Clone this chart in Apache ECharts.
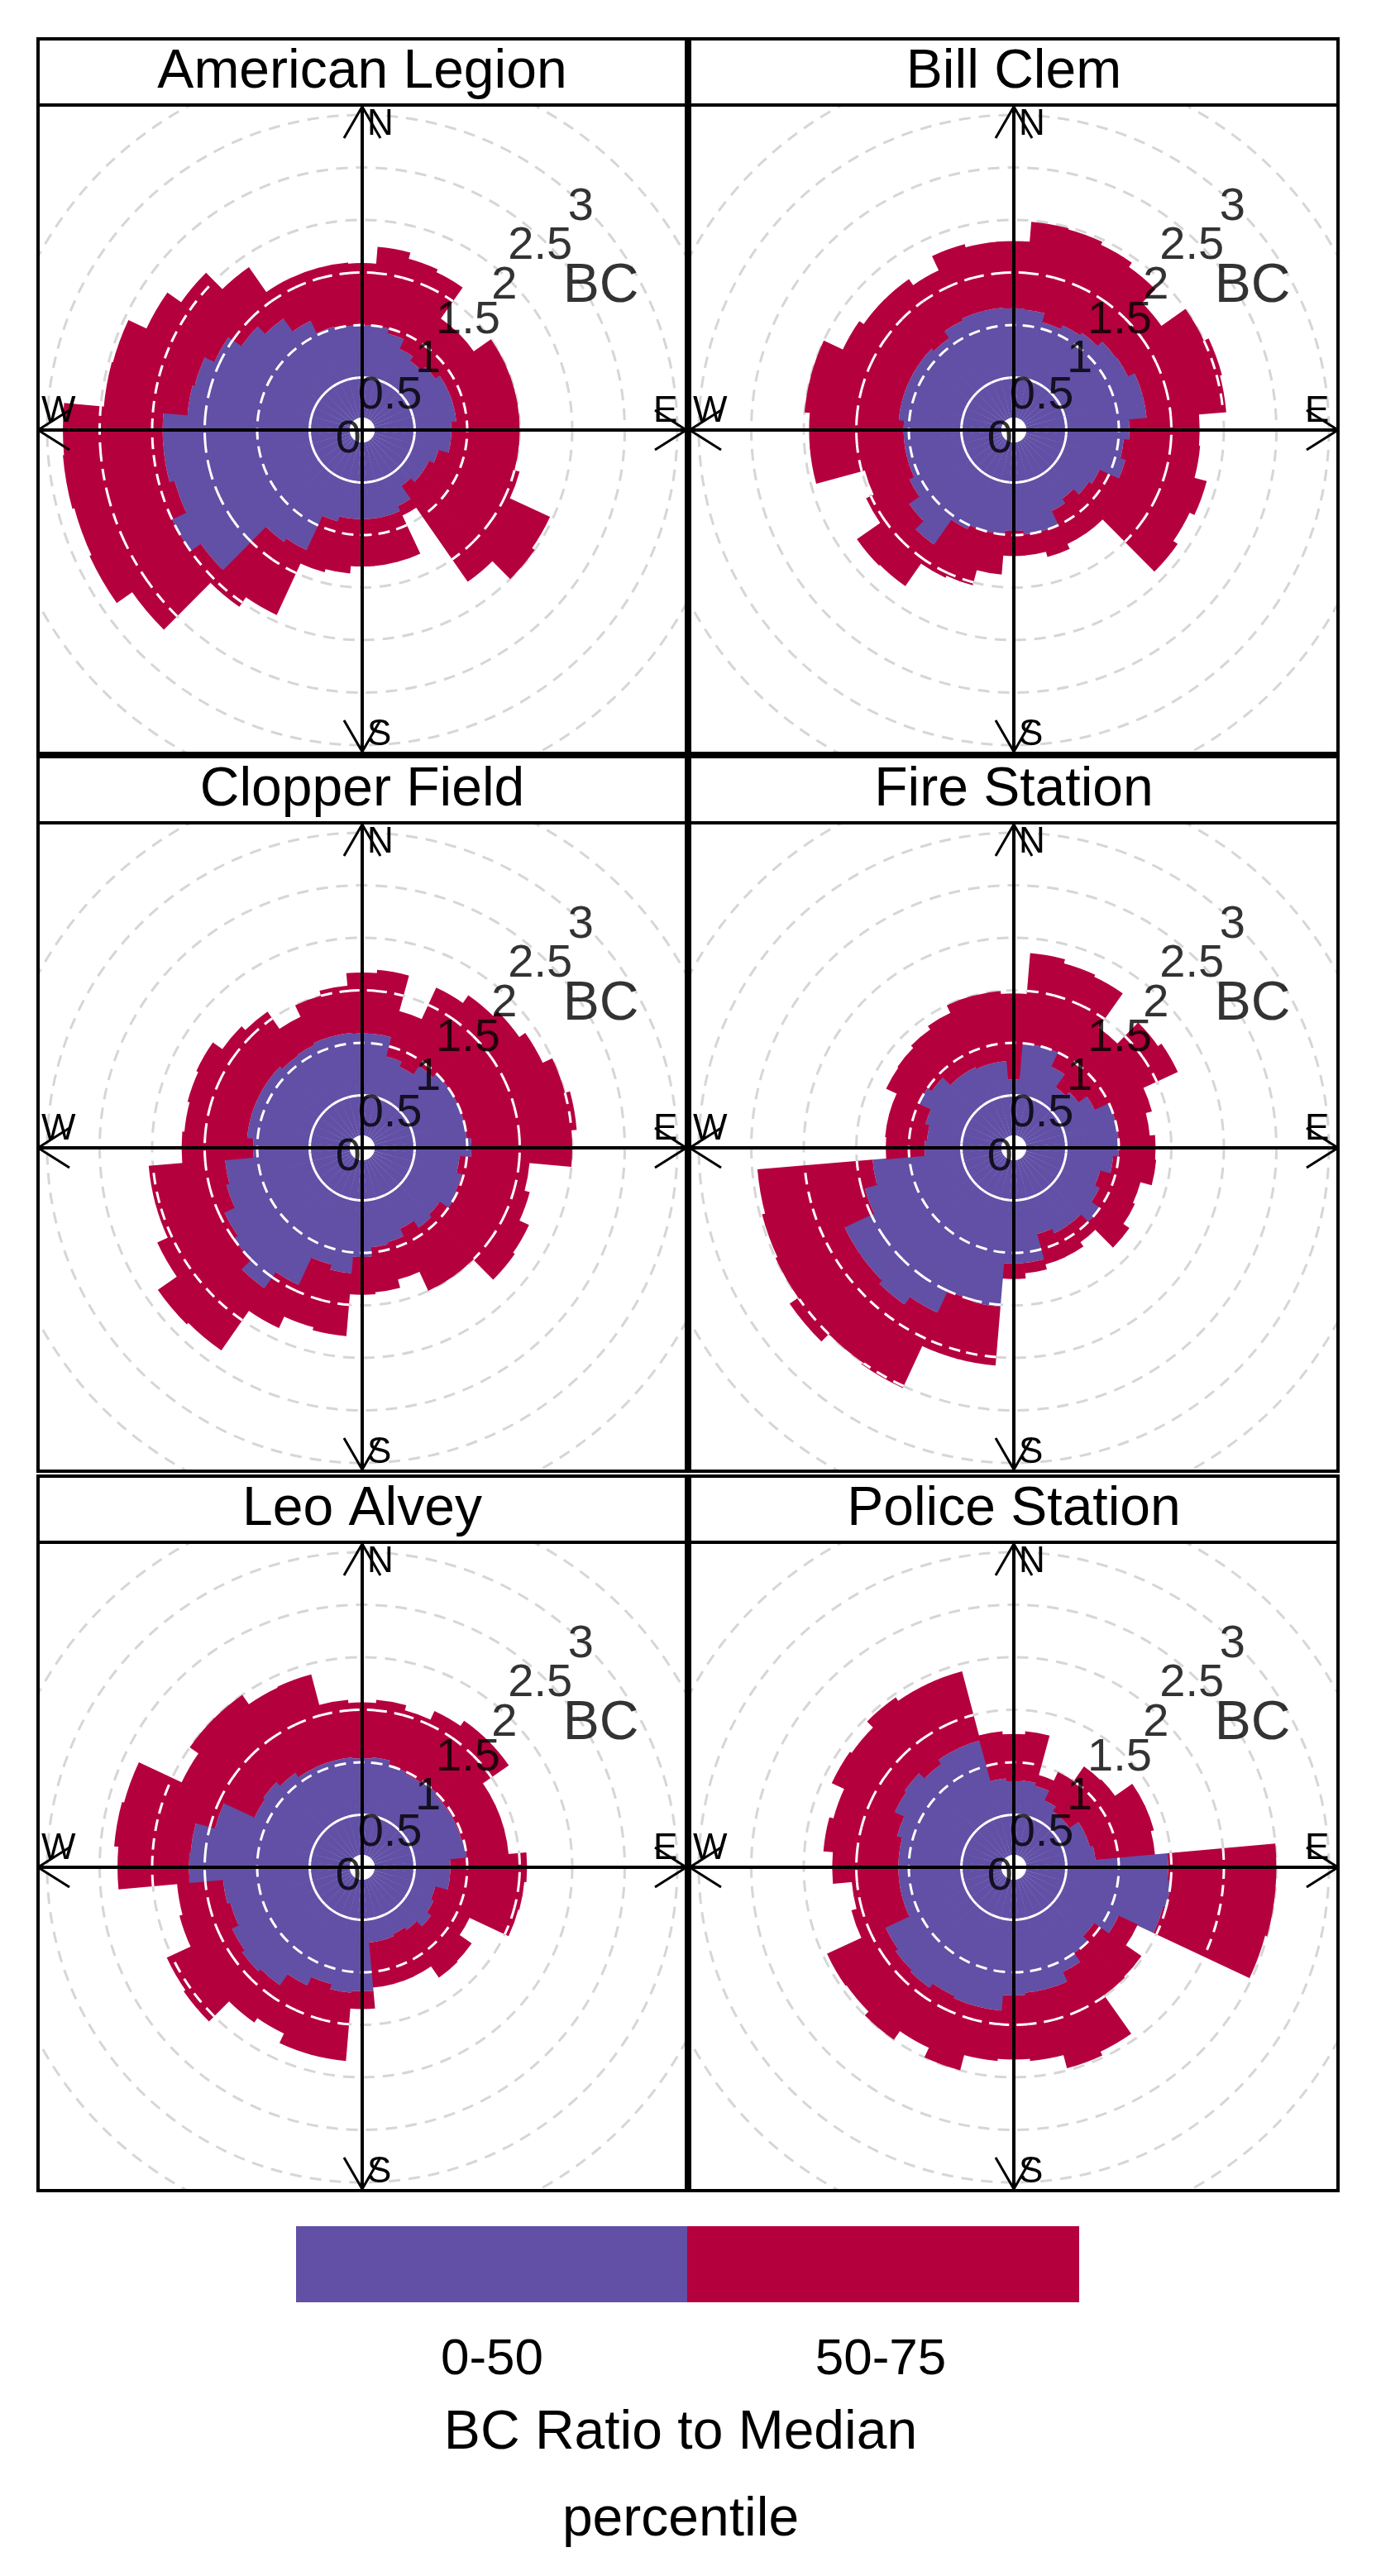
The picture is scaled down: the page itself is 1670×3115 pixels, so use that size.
<!DOCTYPE html>
<html>
<head>
<meta charset="utf-8">
<script src="https://cdn.jsdelivr.net/npm/echarts@6/dist/echarts.min.js"></script>
<style>
html, body { margin: 0; background: #fff; width: 1670px; height: 3115px; }
.pan { position: absolute; width: 788px; height: 868px; }
#legend { position: absolute; left: 0; top: 2640px; width: 1670px; height: 475px; }
</style>
</head>
<body>
<div id="p0" class="pan" style="left:44px;top:45px"></div>
<div id="p1" class="pan" style="left:832px;top:45px"></div>
<div id="p2" class="pan" style="left:44px;top:913px"></div>
<div id="p3" class="pan" style="left:832px;top:913px"></div>
<div id="p4" class="pan" style="left:44px;top:1783px"></div>
<div id="p5" class="pan" style="left:832px;top:1783px"></div>
<div id="legend"></div>
<script>
// wind direction sectors (degrees)
var dirs = [0,10,20,30,40,50,60,70,80,90,100,110,120,130,140,150,160,170,
            180,190,200,210,220,230,240,250,260,270,280,290,300,310,320,330,340,350];

var sites = ['American Legion', 'Bill Clem', 'Clopper Field', 'Fire Station', 'Leo Alvey', 'Police Station'];

// 50th and 75th percentile of BC ratio to median, per direction
var legionP50 = [1.0,1.0,0.95,0.85,0.8,0.85,0.9,0.9,0.9,0.85,0.85,0.75,0.7,0.7,0.65,0.8,0.85,0.85,0.85,0.85,0.9,1.26,1.3,1.88,2.0,1.85,1.9,1.9,1.67,1.65,1.55,1.4,1.3,1.15,1.02,1.0];
var legionP75 = [1.59,1.75,1.69,1.66,1.3,1.3,1.5,1.5,1.5,1.5,1.5,1.55,1.97,2.0,1.76,0.9,1.3,1.3,1.3,1.37,1.4,1.94,2.05,2.68,2.86,2.84,2.86,2.85,2.47,2.46,2.27,2.11,1.89,1.6,1.6,1.6];
var billP50 = [1.16,1.15,1.06,1.1,1.13,1.19,1.2,1.27,1.27,1.1,1.05,1.1,0.9,0.87,0.8,0.85,1.0,1.0,0.96,1.0,1.0,1.04,1.33,1.22,1.1,1.05,1.05,1.05,1.1,1.1,1.1,1.1,1.07,1.15,1.17,1.17];
var billP75 = [1.8,1.99,1.98,1.95,1.9,1.72,2.0,2.05,2.03,1.77,1.78,1.9,1.85,1.9,1.2,1.2,1.25,1.2,1.2,1.38,1.53,1.55,1.81,1.82,1.55,1.47,1.95,1.95,2.0,2.0,1.8,1.75,1.75,1.68,1.83,1.8];
var clopperP50 = [1.09,1.09,0.9,0.85,0.95,1.0,1.0,1.0,1.0,1.04,0.93,0.98,1.0,0.9,0.93,0.85,0.93,0.95,1.04,1.2,1.15,1.44,1.63,1.5,1.45,1.34,1.31,1.04,1.1,1.1,1.1,1.1,1.07,1.08,1.1,1.1];
var clopperP75 = [1.67,1.7,1.35,1.68,1.77,1.83,1.9,2.0,2.05,2.0,1.6,1.65,1.75,1.77,1.5,1.5,1.3,1.38,1.4,1.8,1.77,1.89,2.35,2.37,2.15,2.04,2.04,1.72,1.7,1.72,1.74,1.63,1.58,1.38,1.5,1.55];
var fireP50 = [0.65,1.0,1.0,0.85,0.7,0.75,0.85,1.0,1.0,1.0,0.95,0.85,0.9,1.0,0.9,0.9,0.85,1.1,1.1,1.52,1.5,1.73,1.82,1.78,1.78,1.47,1.35,0.85,0.83,0.87,1.0,0.95,0.85,0.85,0.83,0.83];
var fireP75 = [1.47,1.86,1.82,1.8,1.4,1.68,1.72,1.36,1.3,1.35,1.36,1.25,1.27,1.34,1.1,1.15,1.15,1.2,1.25,2.08,2.08,2.52,2.5,2.6,2.5,2.48,2.45,1.22,1.23,1.23,1.34,1.35,1.38,1.42,1.5,1.5];
var leoP50 = [1.04,1.05,1.0,0.98,1.0,0.98,0.98,0.98,1.0,0.84,0.84,0.72,0.75,0.8,0.73,0.7,0.72,0.72,1.18,1.2,1.15,1.24,1.37,1.4,1.37,1.3,1.33,1.65,1.64,1.45,1.13,1.15,1.1,1.05,1.05,1.05];
var leoP75 = [1.57,1.6,1.55,1.64,1.7,1.7,1.4,1.4,1.4,1.57,1.55,1.54,1.13,1.27,1.28,1.15,1.15,1.15,1.35,1.85,1.85,1.75,1.8,2.07,2.05,1.8,1.77,2.33,2.37,2.35,1.9,2.0,2.0,1.89,1.9,1.6];
var policeP50 = [0.82,0.83,0.8,0.7,0.65,0.65,0.75,0.75,0.78,1.47,1.5,1.47,1.1,0.93,1.0,1.1,1.2,1.2,1.22,1.37,1.37,1.35,1.4,1.38,1.35,1.1,1.1,1.1,1.1,1.15,1.25,1.27,1.2,1.25,1.25,0.85];
var policeP75 = [1.27,1.3,0.91,1.0,1.17,1.18,1.38,1.38,1.35,2.5,2.5,2.48,1.3,1.48,1.49,1.94,1.98,1.85,1.83,1.85,2.0,1.9,2.0,1.95,1.96,1.6,1.55,1.73,1.82,1.78,1.91,1.89,1.97,1.93,1.93,1.3];

var p50s = [legionP50, billP50, clopperP50, fireP50, leoP50, policeP50];
var p75s = [legionP75, billP75, clopperP75, fireP75, leoP75, policeP75];

var rings = [0.5, 1, 1.5, 2, 2.5, 3];
var scaleLabels = ['0', '0.5', '1', '1.5', '2', '2.5', '3'];
var scalePos = [[0.16, 235], [0.42, 39], [0.92, 43], [1.45, 44], [1.93, 44.5], [2.44, 44], [2.97, 44.5]];

var purple = '#6150A5', crimson = '#B5003E';
var hole = 0.12;
var W = 788, STRIP = 82, CX = 394, CY = 475;

function renderSector(params, api) {
  var cs = params.coordSys;
  var d = api.value(0), a = api.value(1), b = api.value(2);
  function px(v) {
    var p = api.coord([v, d]);
    return Math.sqrt((p[0] - cs.cx) * (p[0] - cs.cx) + (p[1] - cs.cy) * (p[1] - cs.cy));
  }
  function ang(deg) {
    var p = api.coord([1, deg]);
    return Math.atan2(p[1] - cs.cy, p[0] - cs.cx);
  }
  var s = ang(d - 5.2), e = ang(d + 5.2);
  var kids = [
    {type: 'sector', shape: {cx: cs.cx, cy: cs.cy, r0: px(hole), r: px(a), startAngle: s, endAngle: e, clockwise: true},
     style: {fill: purple}},
    {type: 'sector', shape: {cx: cs.cx, cy: cs.cy, r0: px(a), r: px(b), startAngle: s, endAngle: e, clockwise: true},
     style: {fill: crimson}}
  ];
  rings.forEach(function (r) {
    if (r < b) {
      kids.push({type: 'arc', shape: {cx: cs.cx, cy: cs.cy, r: px(r), startAngle: s, endAngle: e, clockwise: true},
        style: {stroke: '#fff', fill: null, lineWidth: 3, lineDash: [14, 9]}});
    }
  });
  return {type: 'group', children: kids};
}

function makeOption(i) {
  var data = dirs.map(function (d, k) { return [d, p50s[i][k], p75s[i][k]]; });
  var lab = scaleLabels.map(function (t, k) { return {name: t, value: scalePos[k]}; });
  lab.push({name: 'BC', value: [2.65, 59], label: {fontSize: 66}});
  return {
    animation: false,
    polar: {center: [CX, CY], radius: 444.5},
    angleAxis: {type: 'value', min: 0, max: 360, startAngle: 90, clockwise: true,
      axisLine: {show: false}, axisTick: {show: false}, axisLabel: {show: false}, splitLine: {show: false}},
    radiusAxis: {type: 'value', min: 0, max: 3.5, interval: 0.5,
      axisLine: {show: false}, axisTick: {show: false}, axisLabel: {show: false},
      splitLine: {show: true, lineStyle: {color: '#d6d6d6', width: 3, type: [14, 10]}}},
    series: [
      {type: 'custom', coordinateSystem: 'polar', renderItem: renderSector, data: data, z: 2,
       dimensions: ['dir', 'p50', 'p75'], encode: {angle: 0, radius: 1}},
      {type: 'scatter', coordinateSystem: 'polar', symbolSize: 1, itemStyle: {color: 'rgba(0,0,0,0)'}, z: 5,
       data: lab,
       label: {show: true, position: 'inside', formatter: '{b}', color: '#000', fontSize: 56,
               fontFamily: 'Liberation Sans, Arial, sans-serif'}}
    ],
    graphic: [
      {type: 'line', z: 10, shape: {x1: 0, y1: CY, x2: W, y2: CY}, style: {stroke: '#000', lineWidth: 4}},
      {type: 'line', z: 10, shape: {x1: CX, y1: STRIP, x2: CX, y2: 868}, style: {stroke: '#000', lineWidth: 4}},
      {type: 'polyline', z: 10, shape: {points: [[CX - 22, STRIP + 40], [CX, STRIP + 2], [CX + 22, STRIP + 40]]}, style: {stroke: '#000', lineWidth: 3, fill: null}},
      {type: 'polyline', z: 10, shape: {points: [[CX - 22, 826], [CX, 864], [CX + 22, 826]]}, style: {stroke: '#000', lineWidth: 3, fill: null}},
      {type: 'polyline', z: 10, shape: {points: [[W - 40, CY - 24], [W - 2, CY], [W - 40, CY + 24]]}, style: {stroke: '#000', lineWidth: 3, fill: null}},
      {type: 'polyline', z: 10, shape: {points: [[40, CY - 24], [2, CY], [40, CY + 24]]}, style: {stroke: '#000', lineWidth: 3, fill: null}},
      {type: 'text', z: 11, left: CX + 6, top: STRIP + 2, style: {text: 'N', fontSize: 44, fill: '#000', fontFamily: 'Liberation Sans'}},
      {type: 'text', z: 11, left: CX + 6, top: 822, style: {text: 'S', fontSize: 44, fill: '#000', fontFamily: 'Liberation Sans'}},
      {type: 'text', z: 11, left: W - 42, top: CY - 44, style: {text: 'E', fontSize: 44, fill: '#000', fontFamily: 'Liberation Sans'}},
      {type: 'text', z: 11, left: 6, top: CY - 44, style: {text: 'W', fontSize: 44, fill: '#000', fontFamily: 'Liberation Sans'}},
      {type: 'rect', z: 20, shape: {x: 0, y: 0, width: W, height: STRIP}, style: {fill: '#fff', stroke: '#000', lineWidth: 4}},
      {type: 'rect', z: 21, shape: {x: 2, y: 2, width: W - 4, height: 864}, style: {fill: null, stroke: '#000', lineWidth: 4}},
      {type: 'text', z: 22, x: W / 2, y: STRIP / 2 + 2, style: {text: sites[i], fontSize: 66, fill: '#000',
        align: 'center', verticalAlign: 'middle', fontFamily: 'Liberation Sans'}}
    ]
  };
}

for (var i = 0; i < 6; i++) {
  var chart = echarts.init(document.getElementById('p' + i));
  chart.setOption(makeOption(i));
}

var leg = echarts.init(document.getElementById('legend'));
leg.setOption({
  animation: false,
  graphic: [
    {type: 'rect', shape: {x: 358, y: 52, width: 473, height: 92}, style: {fill: purple}},
    {type: 'rect', shape: {x: 831, y: 52, width: 474, height: 92}, style: {fill: crimson}},
    {type: 'text', x: 595, y: 214, style: {text: '0-50', fontSize: 62, fill: '#000', align: 'center', verticalAlign: 'middle', fontFamily: 'Liberation Sans'}},
    {type: 'text', x: 1065, y: 214, style: {text: '50-75', fontSize: 62, fill: '#000', align: 'center', verticalAlign: 'middle', fontFamily: 'Liberation Sans'}},
    {type: 'text', x: 823, y: 303, style: {text: 'BC Ratio to Median', fontSize: 66, fill: '#000', align: 'center', verticalAlign: 'middle', fontFamily: 'Liberation Sans'}},
    {type: 'text', x: 823, y: 408, style: {text: 'percentile', fontSize: 66, fill: '#000', align: 'center', verticalAlign: 'middle', fontFamily: 'Liberation Sans'}}
  ]
});
</script>
</body>
</html>
